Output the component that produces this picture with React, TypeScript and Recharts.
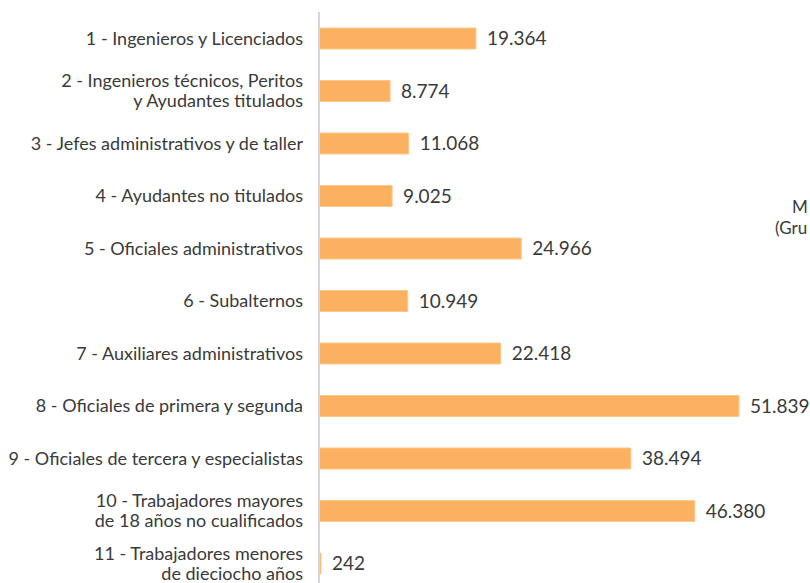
import React from "react";
import { BarChart, Bar, XAxis, YAxis, LabelList } from "recharts";

const categories: string[] = [
  "1 - Ingenieros y Licenciados",
  "2 - Ingenieros técnicos, Peritos|y Ayudantes titulados",
  "3 - Jefes administrativos y de taller",
  "4 - Ayudantes no titulados",
  "5 - Oficiales administrativos",
  "6 - Subalternos",
  "7 - Auxiliares administrativos",
  "8 - Oficiales de primera y segunda",
  "9 - Oficiales de tercera y especialistas",
  "10 - Trabajadores mayores|de 18 años no cualificados",
  "11 - Trabajadores menores|de dieciocho años",
];

const values: number[] = [19364, 8774, 11068, 9025, 24966, 10949, 22418, 51839, 38494, 46380, 242];

const sideTitle: string[] = ["M", "(Gru"];

const data = categories.map((c, i) => ({ name: c, value: values[i] }));

const FONT = "Lato, 'Open Sans', sans-serif";
const TEXT = "#3a3a3a";

const fmt = (v: number) => v.toLocaleString("de-DE");

const CatTick = (props: any) => {
  const { x, y, payload } = props;
  const lines: string[] = String(payload.value).split("|");
  const lh = 20;
  const start = y - ((lines.length - 1) * lh) / 2;
  return (
    <text
      x={x - 16}
      y={start}
      textAnchor="end"
      fontFamily={FONT}
      fontSize={18}
      fill={TEXT}
    >
      {lines.map((l, i) => (
        <tspan key={i} x={x - 16} y={start + i * lh} dy="0.35em">
          {l}
        </tspan>
      ))}
    </text>
  );
};

export default function App() {
  return (
    <div
      style={{
        position: "absolute",
        left: 0,
        top: 0,
        width: 810,
        height: 583,
        overflow: "hidden",
        background: "#fff",
      }}
    >
      <BarChart
        width={810}
        height={595}
        data={data}
        layout="vertical"
        margin={{ top: 12, right: 0, bottom: 5.5, left: 0 }}
        barSize={21}
      >
        <XAxis type="number" hide domain={[0, 60600]} />
        <YAxis
          type="category"
          dataKey="name"
          width={319}
          tickLine={false}
          tickSize={0}
          tickMargin={0}
          axisLine={{ stroke: "#d4d4dc", strokeWidth: 2 }}
          tick={<CatTick />}
          interval={0}
        />
        <Bar
          dataKey="value"
          fill="#fbb160"
          stroke="#fcc88c"
          strokeWidth={1}
          isAnimationActive={false}
        >
          <LabelList
            dataKey="value"
            position="right"
            offset={11}
            formatter={(v: any) => fmt(Number(v))}
            style={{ fontFamily: FONT, fontSize: 19, fill: TEXT }}
          />
        </Bar>
      </BarChart>
      <svg
        width={810}
        height={583}
        style={{ position: "absolute", left: 0, top: 0, pointerEvents: "none" }}
      >
        <text x={792} y={213} fontFamily={FONT} fontSize={17} fill={TEXT}>
          {sideTitle[0]}
        </text>
        <text x={775} y={234} fontFamily={FONT} fontSize={17} fill={TEXT}>
          {sideTitle[1]}
        </text>
      </svg>
    </div>
  );
}
